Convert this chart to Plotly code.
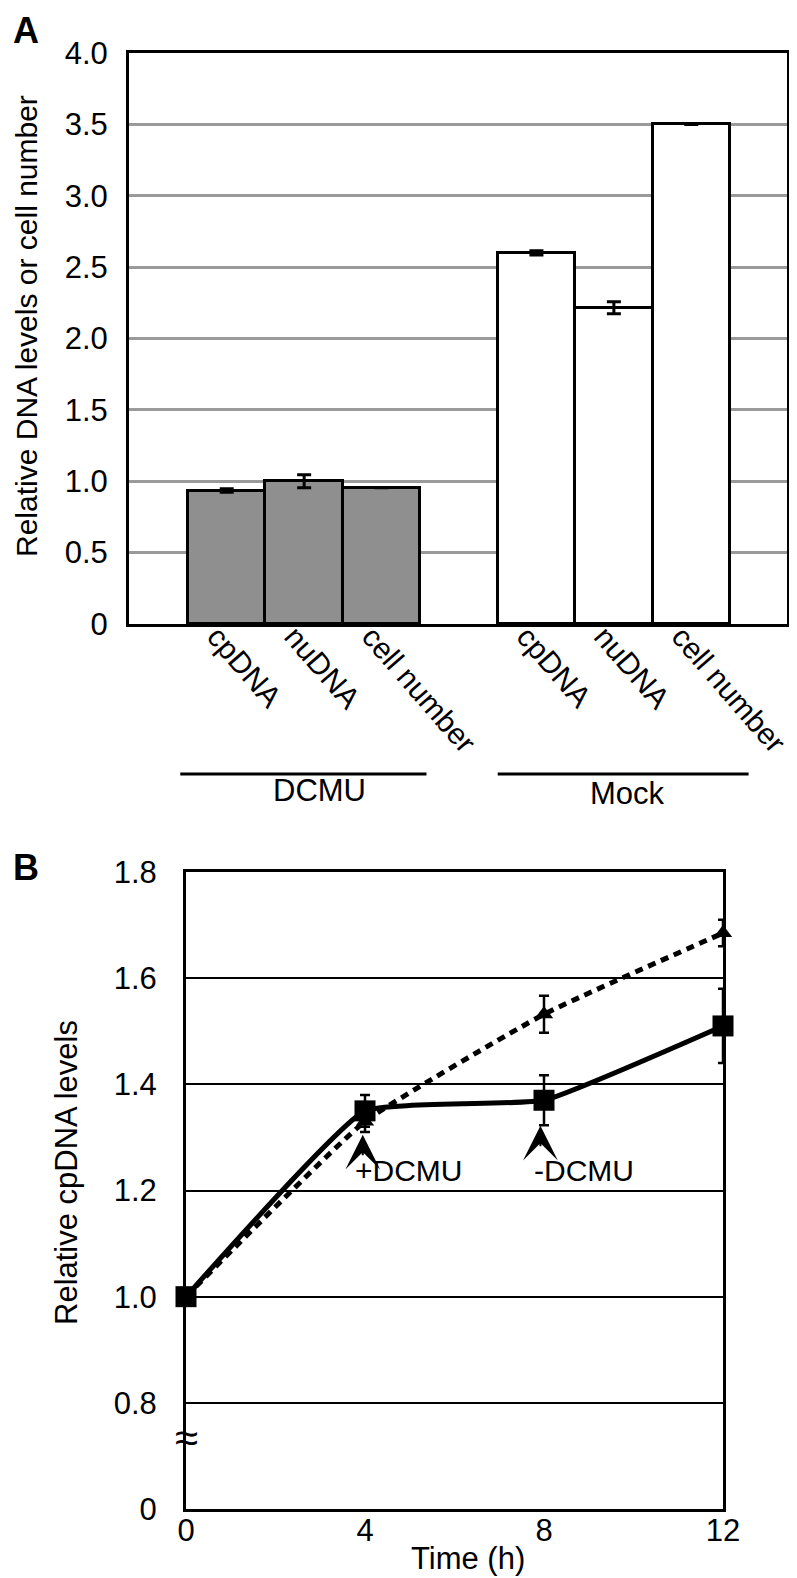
import plotly.graph_objects as go

# ---------------- data ----------------
groups = ["DCMU", "Mock"]
categories = ["cpDNA", "nuDNA", "cell number"]
dcmu_values = [0.935, 1.0, 0.955]
dcmu_errors = [0.012, 0.045, 0.0]
mock_values = [2.6, 2.215, 3.5]
mock_errors = [0.015, 0.042, 0.0]
a_ytick_vals = [0, 0.5, 1.0, 1.5, 2.0, 2.5, 3.0, 3.5, 4.0]
a_ytick_text = ["0", "0.5", "1.0", "1.5", "2.0", "2.5", "3.0", "3.5", "4.0"]

time_h = [0, 4, 8, 12]
dcmu_cpdna = [1.0, 1.35, 1.37, 1.51]
dcmu_cpdna_err = [0.0, 0.03, 0.047, 0.07]
mock_cpdna = [1.0, 1.33, 1.532, 1.685]
mock_cpdna_err = [0.0, 0.02, 0.035, 0.025]
b_ytick_vals = [0.6, 0.8, 1.0, 1.2, 1.4, 1.6, 1.8]
b_ytick_text = ["0", "0.8", "1.0", "1.2", "1.4", "1.6", "1.8"]
b_xtick_vals = [0, 4, 8, 12]

# ---------------- layout helpers ----------------
W, H = 797, 1578
FONT = "Arial, Liberation Sans, Helvetica, sans-serif"


def fx(p):
    return p / W


def fy(p):
    return 1 - p / H


dcmu_ids = [f"{groups[0]}|{c}" for c in categories]
mock_ids = [f"{groups[1]}|{c}" for c in categories]
cat_order = dcmu_ids + ["gap"] + mock_ids
cat_text = categories + [""] + categories

fig = go.Figure()

# Panel A bars
fig.add_trace(go.Bar(
    x=dcmu_ids, y=dcmu_values, width=1,
    marker=dict(color="#8f8f8f", line=dict(color="black", width=3)),
    error_y=dict(type="data", array=dcmu_errors, color="black", thickness=3, width=7),
    xaxis="x", yaxis="y", showlegend=False,
))
fig.add_trace(go.Bar(
    x=mock_ids, y=mock_values, width=1,
    marker=dict(color="white", line=dict(color="black", width=3)),
    error_y=dict(type="data", array=mock_errors, color="black", thickness=3, width=7),
    xaxis="x", yaxis="y", showlegend=False,
))

# Panel B lines
fig.add_trace(go.Scatter(
    x=time_h, y=mock_cpdna, mode="lines+markers",
    line=dict(color="black", width=5, dash="8px,6px", shape="spline", smoothing=0.4),
    marker=dict(symbol="triangle-up", size=16, color="black"),
    error_y=dict(type="data", array=mock_cpdna_err, color="black", thickness=2.5, width=5),
    xaxis="x2", yaxis="y2", showlegend=False, cliponaxis=False,
))
fig.add_trace(go.Scatter(
    x=time_h, y=dcmu_cpdna, mode="lines+markers",
    line=dict(color="black", width=5, shape="spline", smoothing=0.35),
    marker=dict(symbol="square", size=21, color="black"),
    error_y=dict(type="data", array=dcmu_cpdna_err, color="black", thickness=2.5, width=5),
    xaxis="x2", yaxis="y2", showlegend=False, cliponaxis=False,
))

tickfont = dict(family=FONT, size=31, color="black")

fig.update_layout(
    width=W, height=H,
    margin=dict(l=0, r=0, t=0, b=0, autoexpand=False),
    paper_bgcolor="white", plot_bgcolor="white",
    barmode="overlay", bargap=0,
    font=dict(family=FONT, color="black"),
    xaxis=dict(
        domain=[fx(121), fx(779)], anchor="y", automargin=False,
        type="category", categoryorder="array", categoryarray=cat_order,
        range=[-1.262, 7.236],
        tickvals=cat_order, ticktext=cat_text, tickangle=49,
        tickfont=dict(family=FONT, size=30, color="black"), ticks="",
        ticklabelstandoff=-20, ticklabelshift=-10, showgrid=False,
        showline=True, linecolor="black", linewidth=3, mirror=True,
        zeroline=False,
    ),
    yaxis=dict(
        domain=[fy(616), fy(45)], anchor="x", automargin=False,
        range=[0, 4], tickvals=a_ytick_vals, ticktext=a_ytick_text,
        tickfont=tickfont, ticks="", ticklabelstandoff=12,
        showgrid=True, gridcolor="#9a9a9a", gridwidth=2.5,
        showline=True, linecolor="black", linewidth=3, mirror=True,
        zeroline=False,
    ),
    xaxis2=dict(
        domain=[fx(178), fx(715)], anchor="y2", automargin=False,
        range=[0, 12], tickvals=b_xtick_vals,
        tickfont=tickfont, ticks="", ticklabelstandoff=-8,
        showgrid=False,
        showline=True, linecolor="black", linewidth=3, mirror=True,
        zeroline=False,
    ),
    yaxis2=dict(
        domain=[fy(1501), fy(864)], anchor="x2", automargin=False,
        range=[0.6, 1.8], tickvals=b_ytick_vals, ticktext=b_ytick_text,
        tickfont=tickfont, ticks="", ticklabelstandoff=20,
        showgrid=True, gridcolor="black", gridwidth=2,
        showline=True, linecolor="black", linewidth=3, mirror=True,
        zeroline=False,
    ),
)

# group lines under panel A
fig.add_shape(type="line", xref="x", yref="paper", x0=-0.6, x1=2.58,
              y0=fy(766), y1=fy(766), line=dict(color="black", width=3))
fig.add_shape(type="line", xref="x", yref="paper", x0=3.5, x1=6.74,
              y0=fy(766), y1=fy(766), line=dict(color="black", width=3))

ann = []
ann.append(dict(text="DCMU", xref="x", yref="paper", x=1.2, y=fy(782),
                showarrow=False, font=dict(size=31), xanchor="center", yanchor="middle"))
ann.append(dict(text="Mock", xref="x", yref="paper", x=5.18, y=fy(786),
                showarrow=False, font=dict(size=31), xanchor="center", yanchor="middle"))
# panel letters
ann.append(dict(text="<b>A</b>", xref="paper", yref="paper", x=fx(3), y=1.0,
                showarrow=False, font=dict(size=36), xanchor="left", yanchor="top"))
ann.append(dict(text="<b>B</b>", xref="paper", yref="paper", x=fx(3), y=fy(859),
                showarrow=False, font=dict(size=36), xanchor="left", yanchor="middle"))
# axis titles
ann.append(dict(text="Relative DNA levels or cell number", xref="paper", yref="paper",
                x=fx(18), y=fy(318), textangle=-90, showarrow=False,
                font=dict(size=30), xanchor="center", yanchor="middle"))
ann.append(dict(text="Relative cpDNA levels", xref="paper", yref="paper",
                x=fx(58), y=fy(1165), textangle=-90, showarrow=False,
                font=dict(size=31), xanchor="center", yanchor="middle"))
ann.append(dict(text="Time (h)", xref="paper", yref="paper",
                x=fx(460), y=fy(1550), showarrow=False,
                font=dict(size=31), xanchor="center", yanchor="middle"))
# axis break symbol
ann.append(dict(text="≈", xref="x2", yref="y2", x=0, y=0.735, showarrow=False,
                font=dict(size=42), bgcolor="rgba(0,0,0,0)", borderpad=0,
                xanchor="center", yanchor="middle"))
# treatment arrows
for xv, yv in [(3.95, 1.305), (7.92, 1.322)]:
    ann.append(dict(text="", xref="x2", yref="y2", x=xv, y=yv, ax=0, ay=22,
                    showarrow=True, arrowhead=3, arrowsize=2.9, arrowwidth=2,
                    arrowcolor="black"))
ann.append(dict(text="+DCMU", xref="x2", yref="y2", x=3.73, y=1.238, showarrow=False,
                font=dict(size=30), xanchor="left", yanchor="middle"))
ann.append(dict(text="-DCMU", xref="x2", yref="y2", x=7.73, y=1.238, showarrow=False,
                font=dict(size=30), xanchor="left", yanchor="middle"))

fig.update_layout(annotations=ann)

fig.write_html("out.html")
